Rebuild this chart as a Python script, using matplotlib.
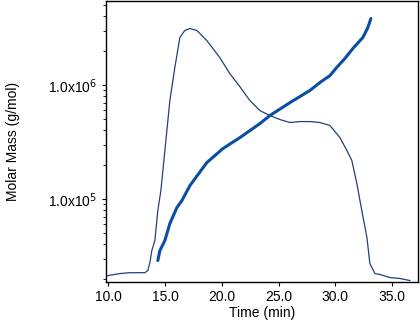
import matplotlib
matplotlib.use("Agg")
import matplotlib.pyplot as plt
from matplotlib.ticker import LogLocator, FixedLocator, NullFormatter

plt.rcParams['font.family'] = ['Liberation Sans', 'DejaVu Sans']

# Concentration / detector trace (thin line), plotted on the same log axis
trace_t = [9.96, 11.01, 11.89, 13.22, 13.48, 13.66, 13.83, 14.10, 14.36, 14.63,
           14.98, 15.42, 15.86, 16.30, 16.74, 17.18, 17.80, 18.68, 19.82, 20.70,
           21.58, 22.47, 23.35, 24.23, 25.11, 26.00, 26.87, 27.75, 28.63, 29.52,
           30.40, 31.02, 31.45, 31.89, 32.33, 32.78, 33.04, 33.48, 33.92, 34.80,
           35.68, 36.56]
trace_v = [2.13e4, 2.22e4, 2.26e4, 2.26e4, 2.36e4, 2.77e4, 3.53e4, 4.33e4, 7.92e4, 1.19e5,
           2.66e5, 7.31e5, 1.43e6, 2.61e6, 3.01e6, 3.13e6, 3.01e6, 2.45e6, 1.74e6, 1.26e6,
           9.7e5, 7.31e5, 5.97e5, 5.40e5, 4.98e5, 4.69e5, 4.78e5, 4.78e5, 4.69e5, 4.42e5,
           3.46e5, 2.66e5, 2.18e5, 1.37e5, 7.92e4, 4.59e4, 2.72e4, 2.22e4, 2.18e4, 2.05e4,
           2.01e4, 1.93e4]

# Molar mass (thick line)
mm_t = [14.36, 14.54, 14.98, 15.42, 16.04, 16.48, 17.18, 18.68, 20.09, 21.59,
        23.35, 24.23, 26.00, 27.75, 28.63, 29.52, 30.13, 30.84, 31.54, 32.42,
        32.86, 33.13]
mm_v = [2.89e4, 3.53e4, 4.33e4, 6.10e4, 8.42e4, 9.70e4, 1.31e5, 2.09e5, 2.77e5, 3.46e5,
        4.59e5, 5.40e5, 7.01e5, 8.95e5, 1.05e6, 1.21e6, 1.43e6, 1.71e6, 2.09e6, 2.61e6,
        3.19e6, 3.83e6]

x_ticks = [10.0, 15.0, 20.0, 25.0, 30.0, 35.0]
x_labels = ["10.0", "15.0", "20.0", "25.0", "30.0", "35.0"]
y_ticks = [1e5, 1e6]
y_labels = ["1.0x10$^5$", "1.0x10$^6$"]

fig = plt.figure(figsize=(4.2, 3.22), dpi=100)
ax = fig.add_axes([0.252, 0.124, 0.743, 0.873])

ax.plot(trace_t, trace_v, color="#22407a", lw=0.9)
ax.plot(mm_t, mm_v, color="#0b4da2", lw=2.2, solid_capstyle="round")

ax.set_yscale("log")
ax.set_xlim(9.78, 37.27)
ax.set_ylim(1.87e4, 5.46e6)

ax.xaxis.set_major_locator(FixedLocator(x_ticks))
ax.set_xticklabels(x_labels)
ax.yaxis.set_major_locator(FixedLocator(y_ticks))
ax.set_yticklabels(y_labels)
ax.yaxis.set_minor_locator(LogLocator(base=10, subs=range(2, 10)))
ax.yaxis.set_minor_formatter(NullFormatter())

ax.tick_params(axis="both", which="major", direction="out", length=3, width=0.8,
               labelsize=10, colors="black")
ax.tick_params(axis="y", which="minor", direction="out", length=2, width=0.6)
ax.tick_params(axis="x", pad=3)
for s in ax.spines.values():
    s.set_linewidth(1.0)
    s.set_color("black")

ax.set_xlabel("Time (min)", fontsize=10, labelpad=1)
ax.set_ylabel("Molar Mass (g/mol)", fontsize=10, labelpad=20)

fig.savefig("out.png", dpi=100)
